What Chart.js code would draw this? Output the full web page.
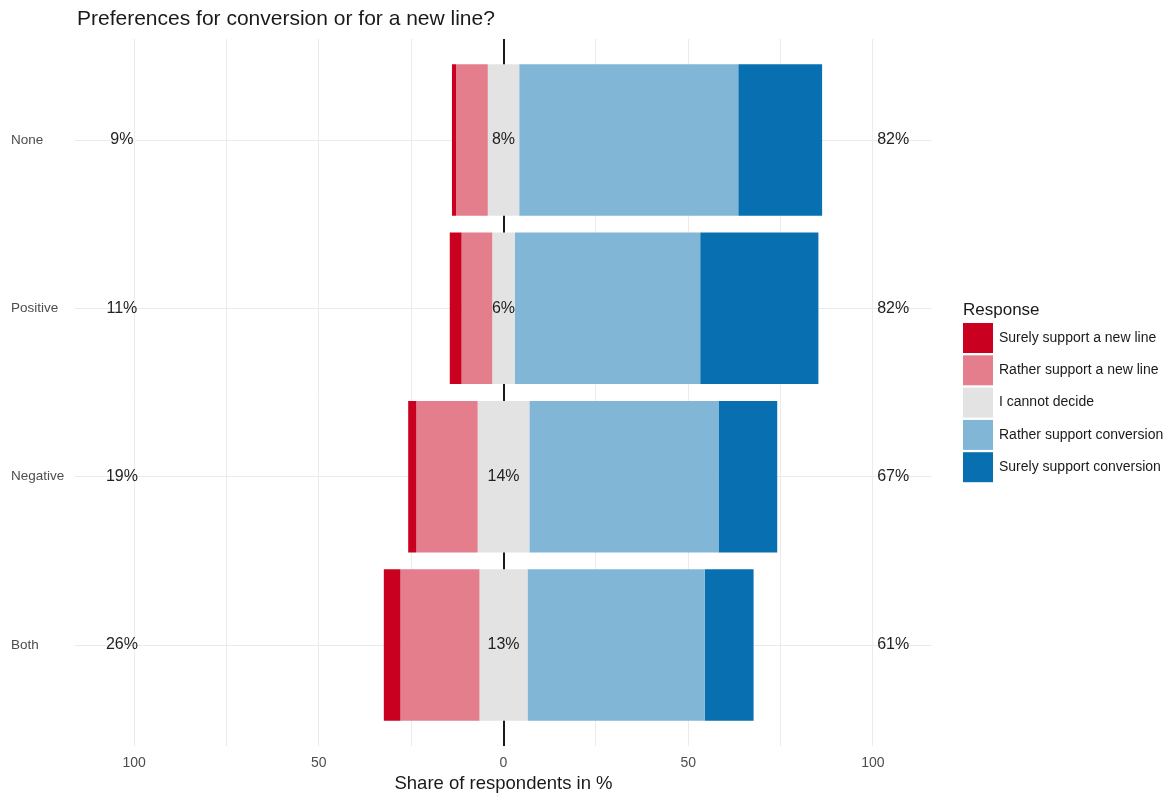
<!DOCTYPE html>
<html>
<head>
<meta charset="utf-8">
<script src="https://cdn.jsdelivr.net/npm/chart.js@4"></script>
<style>
  body { margin: 0; background: #fff; }
  #wrap { width: 1176px; height: 798px; }
</style>
</head>
<body>
<div id="wrap"><canvas id="likert" width="1176" height="798"></canvas></div>
<script>
const categories = ['None', 'Positive', 'Negative', 'Both'];
const surelyNew = [1.1, 3.2, 2.2, 4.5];
const ratherNew = [8.6, 8.3, 16.6, 21.4];
const cannotDecide = [8.5, 6.1, 14.0, 13.0];
const ratherConv = [59.3, 50.2, 51.2, 48.0];
const surelyConv = [22.7, 32.0, 15.9, 13.2];
const leftLabels = ['9%', '11%', '19%', '26%'];
const midLabels = ['8%', '6%', '14%', '13%'];
const rightLabels = ['82%', '82%', '67%', '61%'];
const xTicks = [-100, -75, -50, -25, 0, 25, 50, 75, 100];
const responses = ['Surely support a new line', 'Rather support a new line', 'I cannot decide',
                   'Rather support conversion', 'Surely support conversion'];
const colors = ['#ca0020', '#e47e8d', '#e3e3e3', '#82b6d6', '#0870b0'];

const FONT = '"Liberation Sans", Arial, sans-serif';

// floating bar ranges, centred on the neutral share
function ranges(k){
  return categories.map((c, i) => {
    let h = cannotDecide[i] / 2;
    let segs = [
      [-(h + ratherNew[i] + surelyNew[i]), -(h + ratherNew[i])],
      [-(h + ratherNew[i]), -h],
      [-h, h],
      [h, h + ratherConv[i]],
      [h + ratherConv[i], h + ratherConv[i] + surelyConv[i]]
    ];
    return { y: i, x: segs[k] };
  });
}

const datasets = responses.map((r, k) => ({
  label: r,
  data: ranges(k),
  backgroundColor: colors[k],
  borderWidth: 0,
  barPercentage: 0.9,
  categoryPercentage: 1.0,
  grouped: false
}));

const textPlugin = {
  id: 'texts',
  afterDatasetsDraw(chart){
    const ctx = chart.ctx, x = chart.scales.x, y = chart.scales.y;
    ctx.save();
    ctx.fillStyle = '#222';
    ctx.font = '16px ' + FONT;
    ctx.textAlign = 'center';
    ctx.textBaseline = 'middle';
    categories.forEach((c, i) => {
      let py = y.getPixelForValue(i);
      ctx.fillText(leftLabels[i], x.getPixelForValue(-103.3), py);
      ctx.fillText(midLabels[i], x.getPixelForValue(0), py);
      ctx.fillText(rightLabels[i], x.getPixelForValue(105.5), py);
    });
    ctx.restore();
  },
  afterDraw(chart){
    const ctx = chart.ctx;
    ctx.save();
    // title
    ctx.fillStyle = '#1a1a1a';
    ctx.font = '21px ' + FONT;
    ctx.textAlign = 'left';
    ctx.textBaseline = 'alphabetic';
    ctx.fillText('Preferences for conversion or for a new line?', 77, 25);
    // legend
    ctx.font = '17px ' + FONT;
    ctx.fillText('Response', 963, 315);
    ctx.font = '14px ' + FONT;
    ctx.textBaseline = 'middle';
    responses.forEach((r, k) => {
      let top = 323 + k * 32.3;
      ctx.fillStyle = colors[k];
      ctx.fillRect(963, top, 30, 30);
      ctx.fillStyle = '#1a1a1a';
      ctx.fillText(r, 999, top + 15);
    });
    ctx.restore();
  }
};

new Chart(document.getElementById('likert'), {
  type: 'bar',
  data: { datasets },
  plugins: [textPlugin],
  options: {
    indexAxis: 'y',
    responsive: false,
    animation: false,
    layout: { padding: { top: 39, right: 244, left: 11, bottom: 0 } },
    plugins: { legend: { display: false }, tooltip: { enabled: false } },
    scales: {
      x: {
        type: 'linear',
        min: -116,
        max: 116,
        afterBuildTicks: s => { s.ticks = xTicks.map(v => ({ value: v })); },
        afterFit: s => { s.height = 52; },
        border: { display: false },
        grid: {
          drawTicks: false,
          color: c => c.tick && c.tick.value === 0 ? '#1a1a1a' : '#ebebeb',
          lineWidth: c => c.tick && c.tick.value === 0 ? 2 : 1
        },
        ticks: {
          padding: 9,
          color: '#4d4d4d',
          font: { family: FONT, size: 14 },
          callback: v => v % 50 === 0 ? String(Math.abs(v)) : ''
        },
        title: {
          display: true,
          text: 'Share of respondents in %',
          color: '#1a1a1a',
          font: { family: FONT, size: 18.5 },
          padding: { top: 2, bottom: 3 }
        }
      },
      y: {
        type: 'linear',
        reverse: true,
        offset: false,
        min: -0.6,
        max: 3.6,
        afterBuildTicks: s => { s.ticks = categories.map((c, i) => ({ value: i })); },
        afterFit: s => { s.width = 64; },
        border: { display: false },
        grid: { offset: false, drawTicks: false, color: '#ebebeb', lineWidth: 1 },
        ticks: {
          crossAlign: 'far',
          color: '#4d4d4d',
          font: { family: FONT, size: 13.5 },
          callback: v => categories[v]
        }
      }
    }
  }
});
</script>
</body>
</html>
